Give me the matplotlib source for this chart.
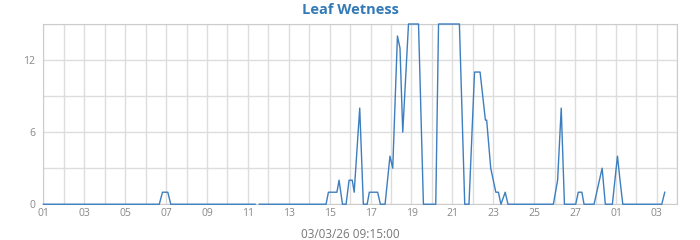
import numpy as np
import pandas as pd
import matplotlib
matplotlib.use('Agg')
import matplotlib.pyplot as plt
import matplotlib.dates as mdates

plt.rcParams['font.family'] = ['Open Sans', 'DejaVu Sans']

# readings (only the turning points, zero elsewhere); None = no data
times = ['2026-02-01 00:00', '2026-02-06 16:00', '2026-02-06 19:45', '2026-02-07 02:00', '2026-02-07 05:30',
         '2026-02-11 08:30', '2026-02-11 11:00', '2026-02-11 13:30',
         '2026-02-14 19:45', '2026-02-14 22:30', '2026-02-15 08:30', '2026-02-15 11:00', '2026-02-15 15:00',
         '2026-02-15 19:15', '2026-02-15 22:45', '2026-02-16 02:30', '2026-02-16 04:45', '2026-02-16 11:15',
         '2026-02-16 15:30', '2026-02-16 20:00', '2026-02-16 22:30', '2026-02-17 08:15', '2026-02-17 11:30',
         '2026-02-17 17:00', '2026-02-17 22:45', '2026-02-18 02:00', '2026-02-18 07:30', '2026-02-18 10:30',
         '2026-02-18 13:45', '2026-02-18 20:30', '2026-02-19 08:15', '2026-02-19 14:00', '2026-02-20 04:30',
         '2026-02-20 07:45', '2026-02-21 08:15', '2026-02-21 14:30', '2026-02-21 19:30', '2026-02-22 02:00',
         '2026-02-22 08:30', '2026-02-22 14:45', '2026-02-22 16:15', '2026-02-22 21:00', '2026-02-23 03:00',
         '2026-02-23 06:00', '2026-02-23 09:00', '2026-02-23 14:00', '2026-02-23 17:15',
         '2026-02-25 22:30', '2026-02-26 03:30', '2026-02-26 07:45', '2026-02-26 11:30',
         '2026-02-27 00:45', '2026-02-27 03:45', '2026-02-27 08:00', '2026-02-27 10:30',
         '2026-02-27 22:15', '2026-02-28 07:45', '2026-02-28 11:30',
         '2026-02-28 19:45', '2026-03-01 01:45', '2026-03-01 04:45', '2026-03-01 08:00',
         '2026-03-03 05:45', '2026-03-03 09:15']
wetness = [0, 0, 1, 1, 0,
           0, None, 0,
           0, 1, 1, 2, 0,
           0, 2, 2, 1, 8,
           0, 0, 1, 1, 0,
           0, 4, 3, 14, 13,
           6, 15, 15, 0, 0,
           15, 15, 0, 0, 11,
           11, 7, 7, 3, 1,
           1, 0, 1, 0,
           0, 2, 8, 0,
           0, 1, 1, 0,
           0, 3, 0,
           0, 4, 2, 0,
           0, 1]
stamp = '03/03/26 09:15:00'

t = pd.to_datetime(times)
v = np.array([np.nan if x is None else x for x in wetness], dtype=float)

fig = plt.figure(figsize=(7, 2.4), dpi=100)
ax = fig.add_axes([0.062, 0.149, 0.9056, 0.751])

ax.plot(t, v, color='#3d7ebf', linewidth=1, clip_on=False, zorder=5)

ax.set_xlim(pd.Timestamp('2026-02-01'), pd.Timestamp('2026-03-04'))
ax.set_ylim(0, 15)
ax.set_yticks([0, 6, 12])
ax.set_yticks([3, 9, 15], minor=True)
ax.xaxis.set_major_locator(mdates.DayLocator(interval=2))
ax.xaxis.set_minor_locator(mdates.DayLocator())
ax.xaxis.set_major_formatter(mdates.DateFormatter('%d'))

ax.grid(True, which='both', color='#dddddd', linewidth=1)
ax.set_axisbelow(True)
for s in ax.spines.values():
    s.set_color('#cccccc')
ax.tick_params(which='both', length=0, colors='#888888', labelsize=7.5)
ax.tick_params(axis='y', pad=6)
ax.tick_params(axis='x', pad=3)

fig.text(0.5, 0.958, 'Leaf Wetness', ha='center', va='center', fontsize=10.5,
         fontweight='bold', color='#337ab7')
fig.text(0.5, 0.025, stamp, ha='center', va='center', fontsize=8.5, color='#777777')

fig.savefig('out.png', dpi=100)
